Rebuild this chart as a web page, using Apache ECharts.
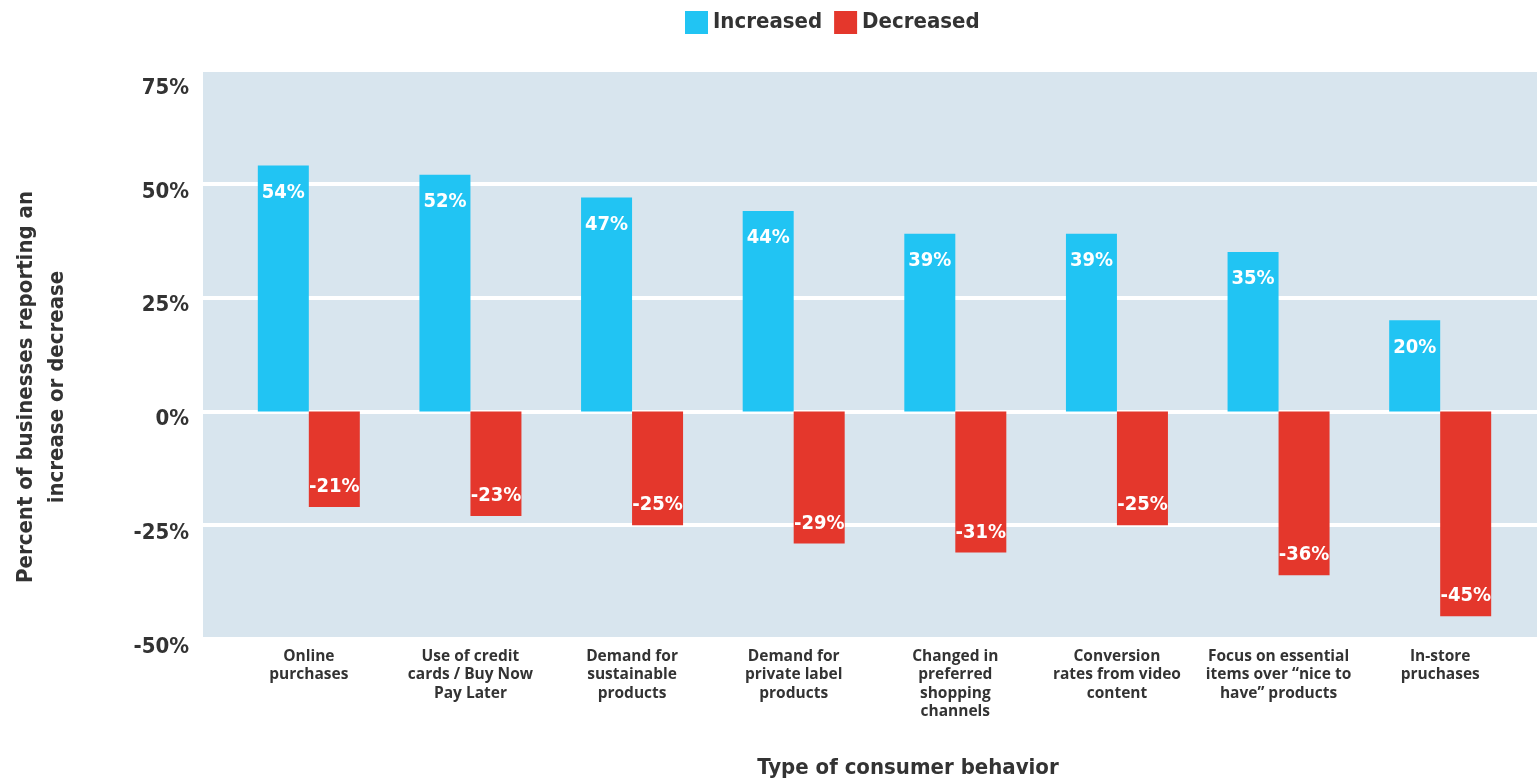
<!DOCTYPE html>
<html>
<head>
<meta charset="utf-8">
<script src="https://cdn.jsdelivr.net/npm/echarts@6/dist/echarts.min.js"></script>
<style>html,body{margin:0;padding:0;background:#fff;}#c{width:1537px;height:780px;}</style>
</head>
<body>
<div id="c"></div>
<script>
var categories = [
  "Online\npurchases",
  "Use of credit\ncards / Buy Now\nPay Later",
  "Demand for\nsustainable\nproducts",
  "Demand for\nprivate label\nproducts",
  "Changed in\npreferred\nshopping\nchannels",
  "Conversion\nrates from video\ncontent",
  "Focus on essential\nitems over \u201cnice to\nhave\u201d products",
  "In-store\npruchases"
];
var increased = [54, 52, 47, 44, 39, 39, 35, 20];
var decreased = [-21, -23, -25, -29, -31, -25, -36, -45];
var yTicks = { min: -50, max: 75, interval: 25 };
var seriesNames = ["Increased", "Decreased"];
var yTitle = "Percent of businesses reporting an\nincrease or decrease";
var xTitle = "Type of consumer behavior";

var condFont = "'DejaVu Sans Condensed', 'DejaVu Sans', sans-serif";
var tickStyle = { fontFamily: condFont, fontWeight: 'bold', fontSize: 22, color: '#333' };
var chart = echarts.init(document.getElementById('c'), null, { renderer: 'canvas' });
chart.setOption({
  animation: false,
  color: ['#21c4f3', '#e4372c'],
  legend: {
    left: 680, top: 6,
    itemWidth: 23, itemHeight: 23, itemGap: 12,
    icon: 'rect',
    textStyle: { fontFamily: condFont, fontWeight: 'bold', fontSize: 22, color: '#333' },
    data: seriesNames
  },
  title: {
    text: xTitle, left: 908, top: 757, textAlign: 'center', padding: 0,
    textStyle: { fontFamily: condFont, fontWeight: 'bold', fontSize: 22, color: '#333' }
  },
  graphic: [{
    type: 'text', x: 42, y: 387, rotation: Math.PI / 2,
    style: { text: yTitle, align: 'center', verticalAlign: 'middle', fontFamily: condFont, fontWeight: 'bold', fontSize: 22, lineHeight: 31, fill: '#333' }
  }],
  grid: [
    { left: 203, right: 0, top: 70, bottom: 141, show: true, backgroundColor: '#d8e5ee', borderWidth: 0 },
    { left: 228, right: 16, top: 70, bottom: 141 }
  ],
  xAxis: [
    { type: 'category', gridIndex: 0, data: categories, show: false },
    { type: 'category', gridIndex: 1, data: categories,
      axisLine: { show: false }, axisTick: { show: false },
      axisLabel: { interval: 0, margin: 8, fontFamily: "'Open Sans', sans-serif", fontWeight: 'bold', fontSize: 15.5, lineHeight: 18.5, color: '#333' } }
  ],
  yAxis: [
    { type: 'value', gridIndex: 0, min: yTicks.min, max: yTicks.max, interval: yTicks.interval,
      axisLine: { show: false }, axisTick: { show: false },
      splitLine: { lineStyle: { color: '#ffffff', width: 4 } },
      axisLabel: {
        margin: 14,
        formatter: function (v) { return (v === yTicks.max ? '{top|' : '{n|') + v + '%}'; },
        rich: {
          n: Object.assign({ padding: [16, 0, 0, 0] }, tickStyle),
          top: Object.assign({ padding: [36, 0, 0, 0] }, tickStyle)
        }
      } },
    { type: 'value', gridIndex: 1, min: yTicks.min, max: yTicks.max, interval: yTicks.interval, show: false, splitLine: { show: false } }
  ],
  series: [
    { name: seriesNames[0], type: 'bar', xAxisIndex: 1, yAxisIndex: 1, data: increased, barWidth: 51, barGap: '0%',
      label: { show: true, position: 'insideTop', distance: 17, formatter: '{c}%', color: '#fff', fontFamily: condFont, fontWeight: 'bold', fontSize: 20 } },
    { name: seriesNames[1], type: 'bar', xAxisIndex: 1, yAxisIndex: 1, data: decreased, barWidth: 51, barGap: '0%',
      label: { show: true, position: 'insideBottom', distance: 10, formatter: '{c}%', color: '#fff', fontFamily: condFont, fontWeight: 'bold', fontSize: 20 } }
  ]
});
</script>
</body>
</html>
